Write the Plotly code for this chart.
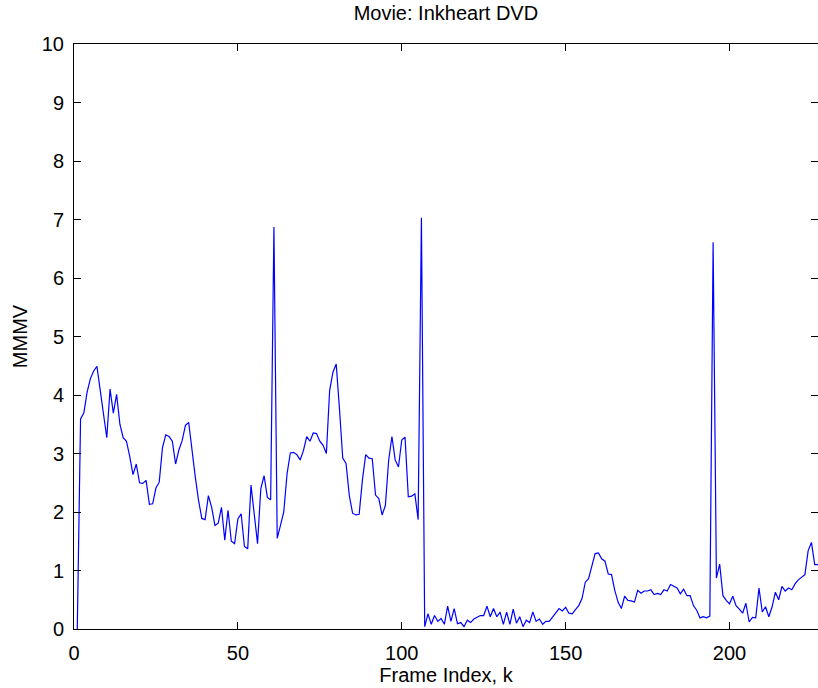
import plotly.graph_objects as go

# MMMV score per frame (frames 1..227)
frame_index = list(range(1, 228))
mmmv = [
    0.00, 3.59, 3.69, 4.05, 4.28, 4.41, 4.49, 4.05, 3.71, 3.27,
    4.10, 3.69, 4.01, 3.50, 3.27, 3.21, 2.95, 2.64, 2.82, 2.50,
    2.49, 2.54, 2.13, 2.14, 2.41, 2.51, 3.10, 3.32, 3.29, 3.21,
    2.82, 3.06, 3.22, 3.48, 3.53, 3.01, 2.60, 2.20, 1.89, 1.87,
    2.28, 2.08, 1.77, 1.81, 2.08, 1.52, 2.03, 1.50, 1.46, 1.88,
    1.97, 1.41, 1.37, 2.46, 1.97, 1.46, 2.40, 2.62, 2.25, 2.21,
    6.87, 1.55, 1.77, 2.00, 2.65, 3.01, 3.02, 2.98, 2.89, 3.05,
    3.29, 3.21, 3.35, 3.34, 3.21, 3.14, 3.00, 4.08, 4.39, 4.53,
    3.76, 2.92, 2.83, 2.28, 1.98, 1.95, 1.96, 2.55, 2.98, 2.92,
    2.91, 2.29, 2.23, 1.95, 2.11, 2.88, 3.29, 2.89, 2.77, 3.23,
    3.28, 2.26, 2.27, 2.31, 1.87, 7.03, 0.04, 0.26, 0.08, 0.23,
    0.13, 0.18, 0.08, 0.39, 0.13, 0.35, 0.09, 0.11, 0.04, 0.15,
    0.11, 0.17, 0.20, 0.23, 0.23, 0.39, 0.21, 0.35, 0.21, 0.29,
    0.08, 0.29, 0.08, 0.34, 0.10, 0.21, 0.04, 0.15, 0.11, 0.29,
    0.13, 0.17, 0.08, 0.13, 0.13, 0.20, 0.28, 0.35, 0.31, 0.37,
    0.27, 0.26, 0.33, 0.40, 0.52, 0.80, 0.86, 1.09, 1.29, 1.30,
    1.20, 1.16, 0.94, 0.93, 0.66, 0.46, 0.35, 0.56, 0.49, 0.48,
    0.46, 0.66, 0.61, 0.65, 0.65, 0.67, 0.59, 0.61, 0.59, 0.67,
    0.65, 0.76, 0.73, 0.70, 0.60, 0.68, 0.57, 0.57, 0.40, 0.32,
    0.19, 0.21, 0.19, 0.22, 6.61, 0.87, 1.11, 0.57, 0.49, 0.43,
    0.56, 0.40, 0.34, 0.27, 0.44, 0.12, 0.20, 0.19, 0.70, 0.29,
    0.38, 0.21, 0.38, 0.63, 0.50, 0.73, 0.65, 0.70, 0.67, 0.77,
    0.84, 0.89, 0.93, 1.34, 1.48, 1.10, 1.10,
]

x_ticks = [0, 50, 100, 150, 200]
y_ticks = list(range(0, 11))

FONT = "Liberation Sans, Arial, Helvetica, sans-serif"

fig = go.Figure(
    go.Scatter(
        x=frame_index,
        y=mmmv,
        mode="lines",
        line=dict(color="#0000ff", width=1.2),
        showlegend=False,
        hoverinfo="skip",
    )
)

axis_common = dict(
    showline=True,
    linecolor="black",
    linewidth=1,
    mirror="ticks",
    ticks="inside",
    ticklen=7,
    tickwidth=1,
    tickcolor="black",
    showgrid=False,
    zeroline=False,
    tickfont=dict(family=FONT, size=20, color="black"),
)

fig.update_xaxes(
    range=[0, 227],
    tickvals=x_ticks,
    ticktext=[str(v) for v in x_ticks],
    ticklabelstandoff=6,
    title=dict(text="Frame Index, k", font=dict(family=FONT, size=20, color="black"), standoff=4),
    **axis_common,
)
fig.update_yaxes(
    range=[0, 10],
    tickvals=y_ticks,
    ticktext=[str(v) for v in y_ticks],
    ticklabelstandoff=5,
    title=dict(text="MMMV", font=dict(family=FONT, size=20, color="black"), standoff=8),
    **axis_common,
)

fig.update_layout(
    width=818,
    height=688,
    margin=dict(l=74, r=0, t=44, b=59, autoexpand=False),
    paper_bgcolor="white",
    plot_bgcolor="white",
    title=dict(
        text="Movie: Inkheart DVD",
        font=dict(family=FONT, size=20, color="black"),
        x=0.5451,
        xanchor="center",
        y=0.981,
        yanchor="middle",
    ),
)

fig.write_html("out.html")
